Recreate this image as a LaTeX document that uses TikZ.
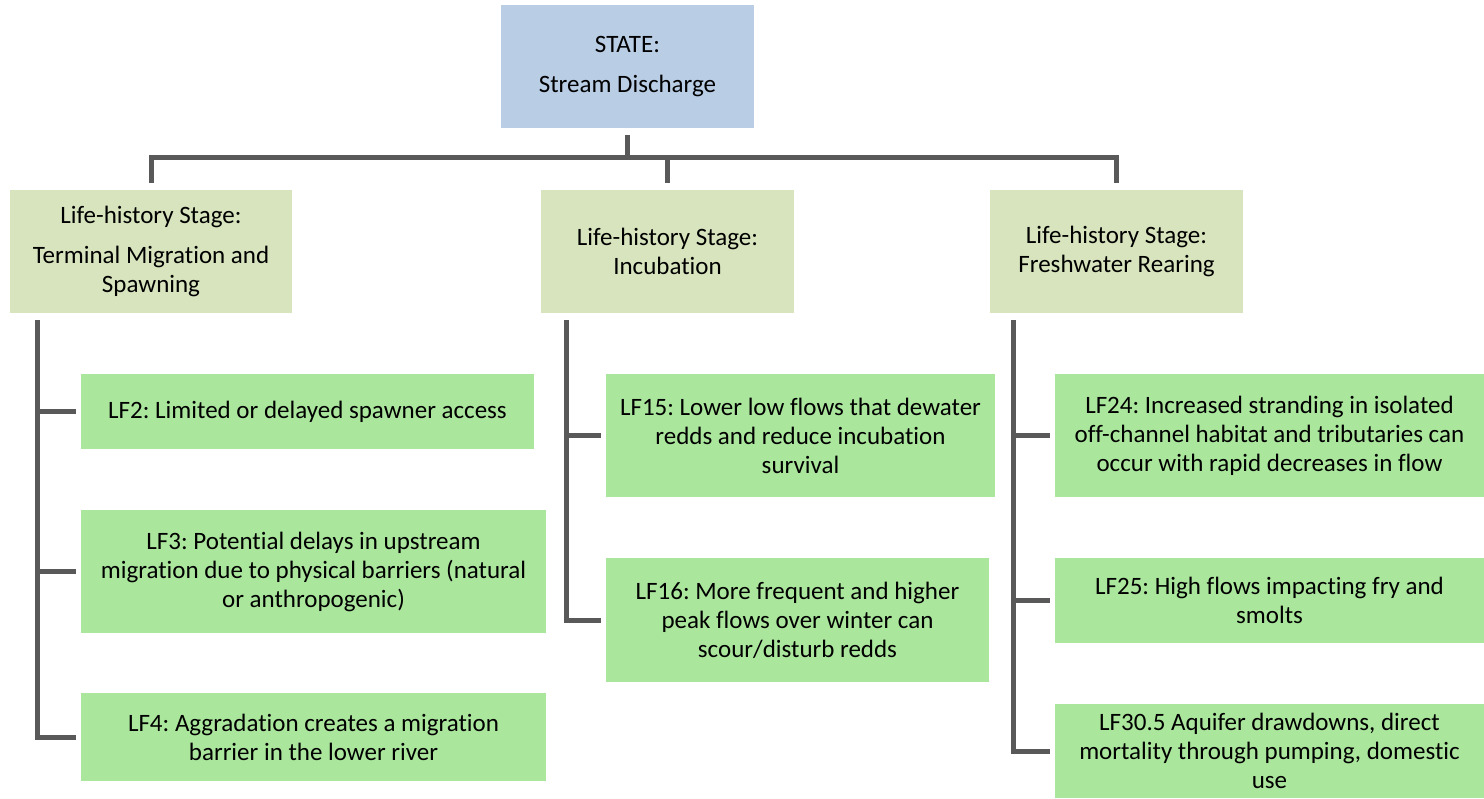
\documentclass[tikz,border=0pt]{standalone}
\usepackage{fontspec}
\setmainfont[Ligatures=NoCommon]{Carlito}
\definecolor{topc}{HTML}{B9CDE5}
\definecolor{stagec}{HTML}{D7E4BD}
\definecolor{lfc}{HTML}{ABE69D}
\definecolor{linec}{HTML}{595959}
\begin{document}
\frenchspacing
\begin{tikzpicture}[x=1pt,y=-1pt,
  box/.style={inner sep=0pt, align=center, font=\fontsize{25}{29}\selectfont, text=black},
  topbox/.style={box, fill=topc},
  stagebox/.style={box, fill=stagec},
  lfbox/.style={box, fill=lfc},
  conn/.style={draw=linec, line width=5pt}]
\useasboundingbox (0,0) rectangle (1484,799);
% top
\node[topbox, minimum width=253pt, minimum height=123pt] (top) at (627.5,66.5) {STATE:\\[11pt]Stream Discharge};
% stages
\node[stagebox, minimum width=282pt, minimum height=123pt] (s1) at (151,251.5) {Life-history Stage:\\[11pt]Terminal Migration and\\Spawning};
\node[stagebox, minimum width=253pt, minimum height=123pt] (s2) at (667.5,251.5) {Life-history Stage:\\Incubation};
\node[stagebox, minimum width=253pt, minimum height=123pt] (s3) at (1116.5,251.5) {Life-history Stage:\\Freshwater Rearing};
% stage 1 factors
\node[lfbox, minimum width=453pt, minimum height=75pt] (lf2) at (307.5,411.5) {LF2: Limited or delayed spawner access};
\node[lfbox, minimum width=465pt, minimum height=123pt] (lf3) at (313.5,571.5) {LF3: Potential delays in upstream\\migration due to physical barriers (natural\\or anthropogenic)};
\node[lfbox, minimum width=465pt, minimum height=88pt] (lf4) at (313.5,737) {LF4: Aggradation creates a migration\\barrier in the lower river};
% stage 2 factors
\node[lfbox, minimum width=389pt, minimum height=123pt] (lf15) at (800.5,435.5) {LF15: Lower low flows that dewater\\redds and reduce incubation\\survival};
\node[lfbox, minimum width=383pt, minimum height=124pt] (lf16) at (797.5,620) {LF16: More frequent and higher\\peak flows over winter can\\scour/disturb redds};
% stage 3 factors
\node[lfbox, minimum width=429pt, minimum height=123pt] (lf24) at (1269.5,435.5) {LF24: Increased stranding in isolated\\off-channel habitat and tributaries can\\occur with rapid decreases in flow};
\node[lfbox, minimum width=429pt, minimum height=85pt] (lf25) at (1269.5,600.5) {LF25: High flows impacting fry and\\smolts};
\node[lfbox, minimum width=429pt, minimum height=94pt] (lf305) at (1269.5,751) {LF30.5 Aquifer drawdowns, direct\\mortality through pumping, domestic\\use};
% top connectors
\coordinate (hub) at (627.5,158);
\draw[conn] ([yshift=-7pt]top.south) -- (top.south |- hub);
\draw[conn] ([yshift=7pt]s1.north) -- (s1.north |- hub) -- (s3.north |- hub) -- ([yshift=7pt]s3.north);
\draw[conn] (s2.north |- hub) -- ([yshift=7pt]s2.north);
% stage 1 bar
\coordinate (b1) at (37,320);
\draw[conn] (b1) |- ([xshift=-5pt]lf4.west);
\draw[conn] (b1 |- lf2.west) -- ([xshift=-5pt]lf2.west);
\draw[conn] (b1 |- lf3.west) -- ([xshift=-5pt]lf3.west);
% stage 2 bar
\coordinate (b2) at (566,320);
\draw[conn] (b2) |- ([xshift=-5pt]lf16.west);
\draw[conn] (b2 |- lf15.west) -- ([xshift=-5pt]lf15.west);
% stage 3 bar
\coordinate (b3) at (1013,320);
\draw[conn] (b3) |- ([xshift=-5pt]lf305.west);
\draw[conn] (b3 |- lf24.west) -- ([xshift=-5pt]lf24.west);
\draw[conn] (b3 |- lf25.west) -- ([xshift=-5pt]lf25.west);
\end{tikzpicture}
\end{document}
